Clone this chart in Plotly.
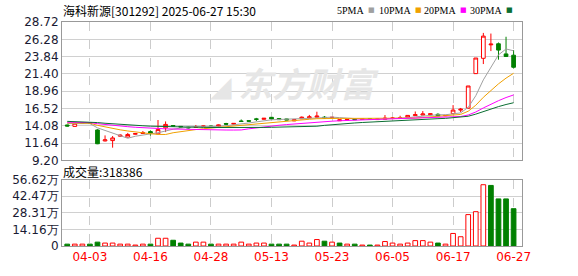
import plotly.graph_objects as go

# ---------------- data ----------------
dates = ["03-31", "04-01", "04-02", "04-03", "04-07", "04-08", "04-09", "04-10", "04-11",
         "04-14", "04-15", "04-16", "04-17", "04-18", "04-21", "04-22", "04-23", "04-24",
         "04-25", "04-28", "04-29", "04-30", "05-06", "05-07", "05-08", "05-09", "05-12",
         "05-13", "05-14", "05-15", "05-16", "05-19", "05-20", "05-21", "05-22", "05-23",
         "05-26", "05-27", "05-28", "05-29", "05-30", "06-03", "06-04", "06-05", "06-06",
         "06-09", "06-10", "06-11", "06-12", "06-13", "06-16", "06-17", "06-18", "06-19",
         "06-20", "06-23", "06-24", "06-25", "06-26", "06-27"]

open_ = [14.20, 14.00, 14.45, 14.50, 13.50, 11.95, 12.00, 12.62, 12.50, 12.90,
         13.00, 13.27, 12.95, 13.80, 14.12, 14.00, 13.88, 13.85, 13.95, 14.05,
         13.97, 14.40, 14.32, 14.76, 14.80, 15.06, 15.00, 15.28, 15.10, 15.05,
         14.78, 15.08, 15.20, 15.30, 15.30, 15.20, 14.80, 14.92, 15.02, 15.00,
         15.08, 14.96, 15.00, 15.10, 15.15, 15.30, 15.52, 15.60, 15.65, 15.70,
         15.50, 15.80, 16.30, 16.57, 21.44, 23.60, 25.50, 25.65, 24.22, 24.04]
high = [14.25, 14.48, 14.55, 14.55, 13.60, 12.73, 12.64, 12.88, 13.08, 13.02,
        13.35, 13.42, 14.90, 14.70, 14.18, 14.05, 13.95, 14.20, 14.08, 14.10,
        14.28, 14.50, 14.45, 14.98, 14.85, 15.20, 15.18, 15.32, 15.14, 15.08,
        14.96, 15.40, 15.62, 16.07, 15.45, 15.32, 14.98, 15.02, 15.08, 15.10,
        15.12, 15.06, 15.60, 15.30, 15.50, 15.58, 16.10, 16.16, 15.82, 15.85,
        15.60, 17.00, 16.60, 19.70, 23.64, 27.18, 27.09, 25.83, 26.64, 24.76]
low = [13.98, 13.95, 14.40, 14.38, 11.50, 11.88, 11.00, 12.55, 12.45, 12.85,
       12.95, 12.70, 12.90, 13.20, 14.00, 13.88, 13.70, 13.82, 13.92, 13.92,
       13.95, 14.20, 14.20, 14.62, 14.65, 14.75, 14.96, 15.02, 14.92, 14.88,
       14.74, 15.04, 15.12, 15.22, 15.10, 15.15, 14.76, 14.88, 14.92, 14.96,
       14.96, 14.92, 14.96, 15.05, 15.12, 15.28, 15.48, 15.58, 15.55, 15.45,
       15.45, 15.70, 16.00, 16.50, 21.40, 22.79, 24.62, 23.41, 23.86, 22.16]
close = [14.05, 14.45, 14.50, 14.44, 11.55, 12.10, 12.37, 12.75, 12.86, 12.98,
         13.10, 13.02, 13.55, 14.28, 14.05, 13.92, 13.80, 13.95, 14.05, 13.97,
         14.22, 14.32, 14.42, 14.70, 14.74, 15.00, 15.14, 15.05, 14.96, 14.90,
         14.94, 15.30, 15.34, 15.44, 15.20, 15.28, 14.92, 14.98, 14.95, 15.05,
         15.00, 15.03, 15.15, 15.18, 15.20, 15.55, 15.65, 15.75, 15.78, 15.48,
         15.55, 16.30, 16.42, 19.70, 23.64, 26.73, 25.60, 24.76, 23.86, 22.34]
# volume in 万 (10k shares)
volume = [1.6, 1.6, 1.6, 1.6, 3.3, 2.5, 2.5, 1.6, 1.6, 0.8,
          1.6, 1.6, 6.6, 6.6, 4.9, 2.5, 1.6, 3.3, 3.3, 1.6,
          1.6, 1.6, 1.6, 3.3, 1.6, 2.5, 2.5, 1.6, 1.6, 1.6,
          0.8, 4.1, 2.5, 5.5, 4.1, 3.3, 2.5, 1.6, 1.6, 0.8,
          0.8, 0.8, 3.8, 2.5, 1.6, 2.5, 4.6, 4.6, 3.3, 2.5,
          1.6, 10.7, 7.9, 26.8, 29.3, 52.3, 51.7, 40.2, 40.2, 31.84]
# March closes before the window (estimated from the starting MA levels)
prior_closes = [15.10, 15.02, 14.95, 15.05, 14.90, 15.00, 14.88, 14.96, 14.92, 14.92,
                14.80, 14.72, 14.65, 14.75, 14.60, 14.70, 14.62, 14.58, 14.66, 14.62,
                14.55, 14.62, 14.60, 14.55, 14.58, 14.50, 14.52, 14.45, 14.48]

price_ticks = [9.20, 11.64, 14.08, 16.52, 18.96, 21.40, 23.84, 26.28, 28.72]
vol_ticks = [0, 14.16, 28.31, 42.47, 56.62]
vol_ticktext = ["0", "14.16万", "28.31万", "42.47万", "56.62万"]
date_tick_idx = [3, 11, 19, 27, 35, 43, 51, 59]
ma_periods = [5, 10, 20, 30]
ma_colors = ["#a0a0a0", "#f0a000", "#ff00ff", "#0a6e32"]
title_text = "海科新源[301292] 2025-06-27 15:30"
last_volume = "318386"
watermark = "东方财富"

RED = "#ff0000"
GREEN = "#008000"

# ---------------- derived ----------------
n = len(close)
xs = list(range(n))
full = prior_closes + close
off = len(prior_closes)
mas = []
for p in ma_periods:
    mas.append([sum(full[off + i - p + 1: off + i + 1]) / p for i in range(n)])

prev = [prior_closes[-1]] + close[:-1]
vol_up = [c >= pc for c, pc in zip(close, prev)]
vol_fill = ["#ffffff" if u else GREEN for u in vol_up]
vol_line = [RED if u else GREEN for u in vol_up]

fig = go.Figure()

# watermark (drawn first, beneath the data)
fig.add_trace(go.Scatter(x=[31.6], y=[19.3], mode="text", text=[watermark],
                         textfont=dict(size=34, color="#e6e6e6", family="Noto Sans CJK SC",
                                       weight="bold", style="italic"),
                         hoverinfo="skip", showlegend=False, xaxis="x", yaxis="y"))
fig.add_trace(go.Scatter(x=[20.3], y=[19.3], mode="text", text=["◢"],
                         textfont=dict(size=28, color="#e6e6e6", family="DejaVu Sans"),
                         hoverinfo="skip", showlegend=False, xaxis="x", yaxis="y"))

for ma, col in zip(mas, ma_colors):
    fig.add_trace(go.Scatter(x=xs, y=ma, mode="lines", line=dict(color=col, width=1),
                             hoverinfo="skip", showlegend=False, xaxis="x", yaxis="y"))

fig.add_trace(go.Candlestick(
    x=xs, open=open_, high=high, low=low, close=close,
    increasing=dict(line=dict(color=RED, width=1), fillcolor="#ffffff"),
    decreasing=dict(line=dict(color=GREEN, width=1), fillcolor=GREEN),
    whiskerwidth=0, showlegend=False, xaxis="x", yaxis="y"))

fig.add_trace(go.Bar(x=xs, y=volume, width=0.62,
                     marker=dict(color=vol_fill, line=dict(color=vol_line, width=1)),
                     showlegend=False, xaxis="x2", yaxis="y2"))

L, R, T, B = 55, 56, 22, 21
W, H = 578, 276
pw, ph = W - L - R, H - T - B


def px_x(px):
    return (px - L) / pw


def px_y(py):
    return (H - B - py) / ph


xrange_ = [-0.69, 60.11]
axis_common = dict(showline=True, mirror=True, linecolor="#999999", linewidth=1,
                   zeroline=False, ticks="")
tickfont_y = dict(family="DejaVu Sans", size=12, color="#1a1a33")

fig.update_layout(
    width=W, height=H, margin=dict(l=L, r=R, t=T, b=B),
    paper_bgcolor="#ffffff", plot_bgcolor="#ffffff",
    showlegend=False, hovermode=False, boxgap=0.3,
    xaxis=dict(domain=[0, 1], range=xrange_, anchor="y", tickvals=date_tick_idx,
               showticklabels=False, showgrid=True, gridcolor="#cccccc", griddash="dash",
               rangeslider=dict(visible=False), **axis_common),
    yaxis=dict(domain=[px_y(166), 1], range=[price_ticks[0], price_ticks[-1]],
               tickvals=price_ticks, ticktext=[f"{v:.2f}" for v in price_ticks],
               showgrid=True, gridcolor="#d0d0d0", tickfont=tickfont_y, **axis_common),
    xaxis2=dict(domain=[0, 1], range=xrange_, anchor="y2", tickvals=date_tick_idx,
                ticktext=[dates[i] for i in date_tick_idx],
                tickfont=dict(family="DejaVu Sans", size=12, color=RED),
                showgrid=True, gridcolor="#cccccc", griddash="dash", **axis_common),
    yaxis2=dict(domain=[0, px_y(186)], range=[0, vol_ticks[-1]], tickvals=vol_ticks,
                ticktext=vol_ticktext, showgrid=True, gridcolor="#d0d0d0",
                tickfont=tickfont_y, **axis_common),
)

ann = []
ann.append(dict(text=title_text, xref="paper", yref="paper", x=px_x(54), y=px_y(10),
                xanchor="left", yanchor="middle", showarrow=False,
                font=dict(family="Noto Sans CJK SC", size=12, color="#000000")))
ann.append(dict(text="成交量:" + last_volume, xref="paper", yref="paper", x=px_x(54),
                y=px_y(177), xanchor="left", yanchor="middle", showarrow=False,
                font=dict(family="Noto Sans CJK SC", size=12, color="#000000")))
legend_text_right = [364, 411, 457, 504]
legend_sq_left = [364, 411, 457, 504]
for p, col, tx, sx in zip(ma_periods, ma_colors, legend_text_right, legend_sq_left):
    ann.append(dict(text=f"{p}PMA", xref="paper", yref="paper", x=px_x(tx), y=px_y(10),
                    xanchor="right", yanchor="middle", showarrow=False,
                    font=dict(family="Liberation Serif", size=10, color="#000000")))
    ann.append(dict(text="■", xref="paper", yref="paper", x=px_x(sx), y=px_y(9),
                    xanchor="left", yanchor="middle", showarrow=False,
                    font=dict(family="DejaVu Sans", size=7, color=col)))
fig.update_layout(annotations=ann)

fig.write_html("out.html")
